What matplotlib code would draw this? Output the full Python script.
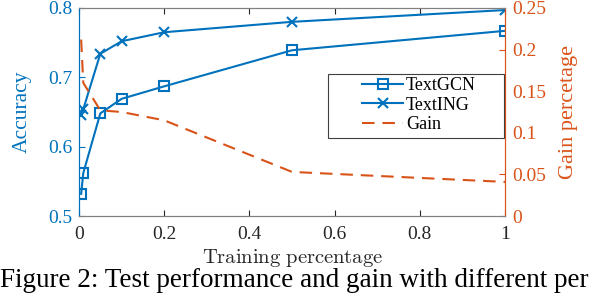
import matplotlib.pyplot as plt
from matplotlib.patches import Rectangle

plt.rcParams['font.family'] = ['Liberation Serif', 'DejaVu Serif']
plt.rcParams['mathtext.fontset'] = 'cm'

train_pct = [0.005, 0.01, 0.05, 0.1, 0.2, 0.5, 1.0]
textgcn = [0.532, 0.562, 0.648, 0.669, 0.687, 0.739, 0.767]
texting = [0.646, 0.654, 0.734, 0.752, 0.765, 0.780, 0.797]
gain = [0.212, 0.160, 0.127, 0.125, 0.115, 0.053, 0.041]

blue = "#0072BD"
orange = "#D95319"
grey = "#262626"

fig = plt.figure(figsize=(6, 3.06), dpi=100)
ax = fig.add_axes([0.1317, 0.294, 0.71, 0.680])
ax2 = ax.twinx()

l1, = ax.plot(train_pct, textgcn, color=blue, lw=1.5, marker='s', ms=6.5,
              mfc='none', mew=1.5, label='TextGCN')
l2, = ax.plot(train_pct, texting, color=blue, lw=1.5, marker='x', ms=7.5,
              mew=1.5, label='TextING')
l3, = ax2.plot(train_pct, gain, color=orange, lw=1.5, ls=(0, (6, 3.8)),
               label='Gain')

ax.set_xlim(0, 1)
ax.set_ylim(0.5, 0.8)
ax2.set_ylim(0, 0.25)
ax.set_xticks([0, 0.2, 0.4, 0.6, 0.8, 1])
ax.set_xticklabels(['0', '0.2', '0.4', '0.6', '0.8', '1'])
ax.set_yticks([0.5, 0.6, 0.7, 0.8])
ax2.set_yticks([0, 0.05, 0.1, 0.15, 0.2, 0.25])
ax2.set_yticklabels(['0', '0.05', '0.1', '0.15', '0.2', '0.25'])

ax.tick_params(axis='x', direction='in', length=4, width=0.8, top=True,
               colors=grey, labelsize=14, pad=7)
ax.tick_params(axis='y', direction='in', length=4, width=0.8,
               colors=blue, labelsize=14, pad=5)
ax2.tick_params(axis='y', direction='in', length=4, width=0.8,
                colors=orange, labelsize=14, pad=5)

for a in (ax, ax2):
    a.spines['top'].set_color('#808080')
    a.spines['bottom'].set_color('#808080')
    a.spines['left'].set_color(blue)
    a.spines['right'].set_color(orange)
    for s in a.spines.values():
        s.set_linewidth(0.8)

ax.set_ylabel('Accuracy', color=blue, fontsize=15.5)
ax.yaxis.set_label_coords(-0.110, 0.5)
ax2.set_ylabel('Gain percetage', color=orange, fontsize=16)
ax2.yaxis.set_label_coords(1.127, 0.5)
ax.set_xlabel(r'$\mathrm{Training\ percentage}$', color=grey, fontsize=14.8)
ax.xaxis.set_label_coords(0.5, -0.149)

# legend box drawn separately to get MATLAB-like wide padding
ax2.add_patch(Rectangle((0.5845, 0.375), 0.4135, 0.308, transform=ax2.transAxes,
                        facecolor='white', edgecolor='#404040', lw=0.8,
                        zorder=4, clip_on=False))
leg = ax2.legend(handles=[l1, l2, l3], loc='upper left',
                 bbox_to_anchor=(0.664, 0.668), borderaxespad=0,
                 fontsize=13, frameon=False, handlelength=2.3,
                 labelspacing=0.15, borderpad=0, handletextpad=0.15)
leg.set_zorder(5)

fig.text(0.003, 306 - 287, 'Figure 2: Test performance and gain with different per',
         transform=None, fontsize=19.5, va='baseline', ha='left', color='black')

fig.savefig('out.png', dpi=100)
